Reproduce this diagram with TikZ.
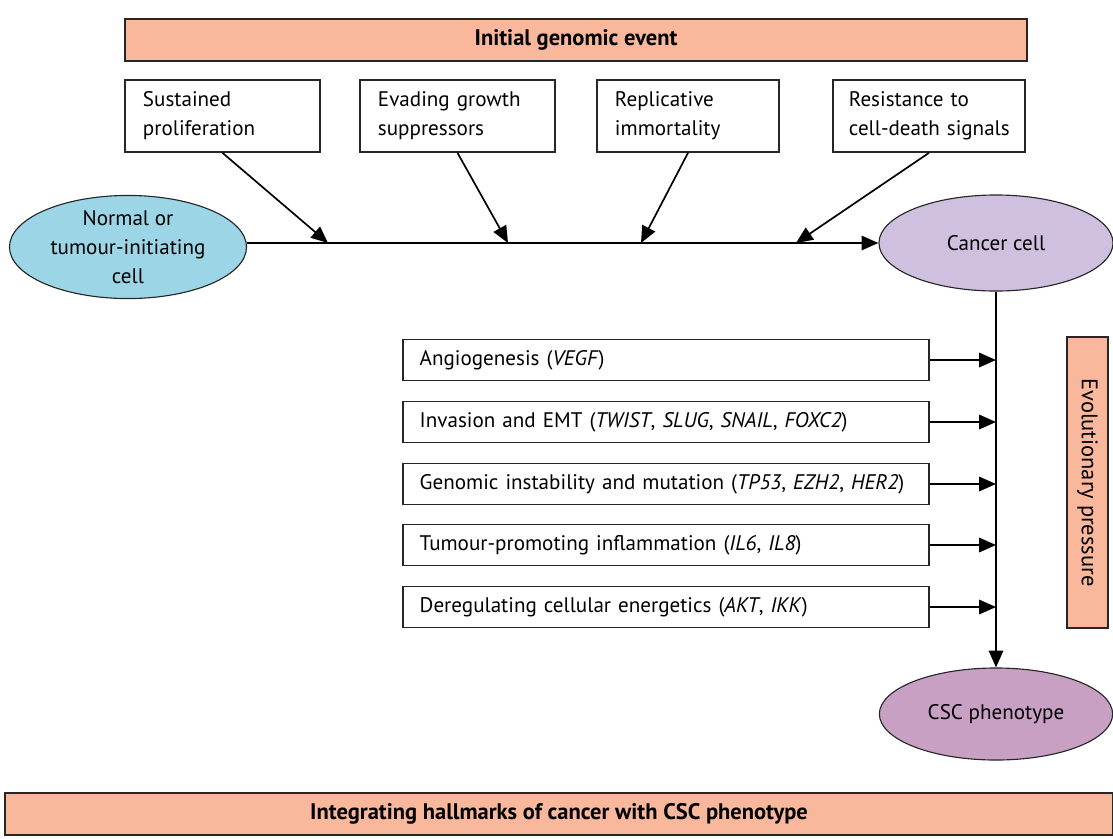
\documentclass[tikz,border=0pt]{standalone}
\usepackage{fontspec}
\setmainfont{PT Sans}
\usetikzlibrary{arrows.meta,positioning,shapes.geometric}
\definecolor{banner}{RGB}{249,183,155}
\definecolor{cellblue}{RGB}{155,213,230}
\definecolor{cancerlav}{RGB}{206,192,222}
\definecolor{cscpurple}{RGB}{199,160,196}

\begin{document}
\begin{tikzpicture}
[x=0.025cm, y=-0.025cm,
every node/.style={font=\fontsize{15}{20.5}\selectfont},
bannerbox/.style={draw=black!85, line width=1.2pt, fill=banner, minimum height=1.05cm, font=\fontsize{16}{20}\selectfont\bfseries},
hallbox/.style={draw=black!85, line width=1.2pt, fill=white, minimum height=1.8cm, inner xsep=0.45cm, align=left},
markbox/.style={draw=black!85, line width=1.2pt, fill=white, minimum width=13.15cm, minimum height=1.025cm, inner xsep=0.42cm, text width=12.31cm, align=left},
cell/.style={ellipse, draw=black!85, line width=0.8pt, align=center, inner sep=0pt},
arrow/.style={line width=1.2pt, -{Triangle[length=0.42cm,width=0.36cm]}},
]
\useasboundingbox (0,0) rectangle (1113,838);

% banners
\node (initial) [bannerbox, minimum width=22.55cm] at (576,40) {Initial genomic event};
\node (integrate) [bannerbox, minimum width=27.7cm] at (559,814) {Integrating hallmarks of cancer with CSC phenotype};
\node (evol) [bannerbox, font=\fontsize{16}{18}\selectfont, minimum width=7.275cm, minimum height=1.025cm, rotate=-90] at (1087.5,482.5) {Evolutionary pressure};

% hallmark boxes on top
\node (sustain) [hallbox, text width=3.975cm] at (222.5,116) {Sustained\\proliferation};
\node (evade) [hallbox, text width=3.975cm] at (457.5,116) {Evading growth\\suppressors};
\node (immortal) [hallbox, text width=3.65cm] at (688,116) {Replicative\\immortality};
\node (resist) [hallbox, inner xsep=0.3cm, text width=4.2cm] at (929,116) {\hspace*{0.1cm}Resistance to\\\hspace*{0.1cm}cell-death signals};

% cells
\node (normal) [cell, fill=cellblue, minimum width=5.925cm, minimum height=2.5cm] at (128,247) {Normal or\\tumour-initiating\\cell};
\node (cancer) [cell, fill=cancerlav, minimum width=5.85cm, minimum height=2.4cm] at (996,243) {Cancer cell};
\node (csc) [cell, fill=cscpurple, minimum width=5.83cm, minimum height=2.3cm] at (996,714) {CSC phenotype};

% hallmark boxes on the side
\node (angio) [markbox] at (666,360) {Angiogenesis (\textit{VEGF})};
\node (emt) [markbox] at (666,422) {Invasion and EMT (\textit{TWIST}, \textit{SLUG}, \textit{SNAIL}, \textit{FOXC2})};
\node (genomic) [markbox] at (666,484) {Genomic instability and mutation (\textit{TP53}, \textit{EZH2}, \textit{HER2})};
\node (inflam) [markbox] at (666,545) {Tumour-promoting inflammation (\textit{IL6}, \textit{IL8})};
\node (energy) [markbox] at (666,607) {Deregulating cellular energetics (\textit{AKT}, \textit{IKK})};

\coordinate (j1) at (328,243);
\coordinate (j2) at (508,243);
\coordinate (j3) at (641,243);
\coordinate (j4) at (796,243);

\draw[arrow] (normal.east |- cancer.west) -- (cancer.west);
\draw[arrow] (sustain.south) -- (j1);
\draw[arrow] (evade.south) -- (j2);
\draw[arrow] (immortal.south) -- (j3);
\draw[arrow] (resist.south) -- (j4);

\draw[arrow] (cancer.south) -- (csc.north);
\foreach \b in {angio,emt,genomic,inflam,energy}
  \draw[arrow] (\b.east) -- (\b.east -| cancer.south);

\end{tikzpicture}
\end{document}
